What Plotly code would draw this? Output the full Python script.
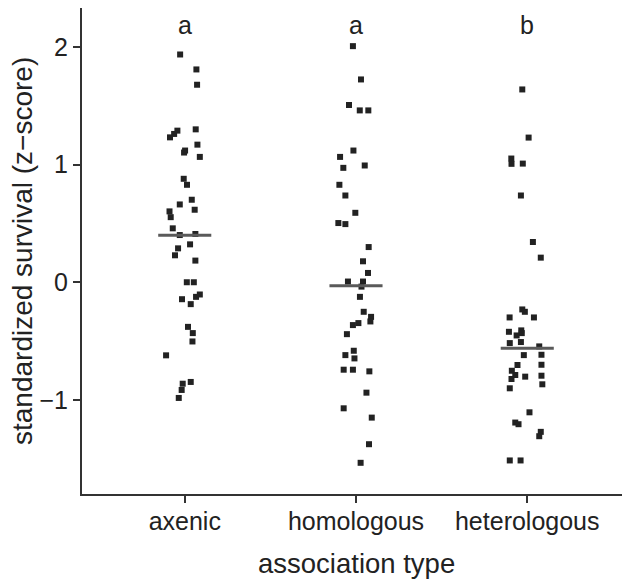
import plotly.graph_objects as go

# association types on the x axis
categories = ["axenic", "homologous", "heterologous"]
group_letters = ["a", "a", "b"]

# standardized survival (z-score)
axenic_z = [1.935, 1.808, 1.678, 1.299, 1.288, 1.260, 1.231, 1.169, 1.119, 1.102,
            1.065, 0.879, 0.828, 0.701, 0.661, 0.616, 0.602, 0.553, 0.458, 0.401,
            0.410, 0.322, 0.288, 0.229, 0.184, 0.000, 0.000, -0.104, -0.124, -0.144,
            -0.186, -0.379, -0.432, -0.503, -0.621, -0.847, -0.862, -0.915, -0.983]
axenic_jit = [-0.027, 0.068, 0.072, 0.064, -0.043, -0.062, -0.086, 0.074, 0.002, -0.004,
              0.088, -0.006, 0.013, 0.041, -0.029, 0.058, -0.089, -0.082, -0.070, -0.029,
              0.062, 0.031, -0.039, -0.057, 0.062, 0.012, 0.053, 0.088, 0.066, -0.016,
              0.035, 0.019, 0.047, 0.045, -0.109, 0.035, -0.012, -0.018, -0.035]

homologous_z = [2.006, 1.723, 1.506, 1.460, 1.460, 1.119, 1.065, 0.992, 0.972, 0.828,
                0.737, 0.590, 0.503, 0.494, 0.299, 0.178, 0.079, 0.006, 0.006, -0.037,
                -0.124, -0.251, -0.294, -0.333, -0.347, -0.364, -0.441, -0.582, -0.619, -0.647,
                -0.743, -0.743, -0.757, -0.938, -1.071, -1.150, -1.376, -1.534]
homologous_jit = [-0.018, 0.029, -0.041, 0.022, 0.072, -0.015, -0.093, 0.051, -0.074, -0.097,
                  -0.062, -0.004, -0.103, -0.062, 0.074, 0.041, 0.070, -0.047, 0.041, 0.032,
                  0.023, 0.045, 0.088, 0.084, 0.014, -0.018, -0.053, -0.013, -0.062, -0.009,
                  -0.072, -0.018, 0.078, 0.061, -0.072, 0.092, 0.076, 0.027]

heterologous_z = [1.638, 1.229, 1.051, 1.006, 1.008, 0.737, 0.342, 0.209, -0.231, -0.251,
                  -0.299, -0.299, -0.421, -0.409, -0.432, -0.452, -0.517, -0.508, -0.545, -0.616,
                  -0.619, -0.703, -0.701, -0.752, -0.788, -0.822, -0.802, -0.794, -0.867, -0.901,
                  -1.105, -1.192, -1.206, -1.271, -1.308, -1.514, -1.514]
heterologous_jit = [-0.029, 0.008, -0.093, -0.092, -0.026, -0.037, 0.033, 0.079, -0.029, -0.014,
                    -0.103, 0.039, -0.107, -0.035, -0.032, -0.062, -0.102, -0.037, 0.070, 0.083,
                    -0.020, -0.057, 0.083, -0.090, -0.070, -0.092, -0.012, 0.083, 0.088, -0.102,
                    0.013, -0.070, -0.051, 0.079, 0.070, -0.102, -0.039]

medians = [0.40, -0.03, -0.56]

FONT = "Liberation Sans, Arial, Helvetica, sans-serif"
INK = "#222222"
groups = [(axenic_z, axenic_jit), (homologous_z, homologous_jit), (heterologous_z, heterologous_jit)]

fig = go.Figure()

for i, (z, jit) in enumerate(groups):
    fig.add_trace(go.Scatter(
        x=[i + j for j in jit], y=z, mode="markers",
        marker=dict(symbol="square", size=6, color=INK, line=dict(width=0)),
        showlegend=False, hoverinfo="y",
    ))

# median bars
for i, m in enumerate(medians):
    fig.add_trace(go.Scatter(
        x=[i - 0.155, i + 0.155], y=[m, m], mode="lines",
        line=dict(color="#5a5a5a", width=3),
        showlegend=False, hoverinfo="skip",
    ))

# group letters, anchored at their top so the box stays inside the figure
for i, letter in enumerate(group_letters):
    fig.add_annotation(x=i, y=2.33, xref="x", yref="y", yanchor="top", yshift=-1,
                       text=letter, showarrow=False,
                       font=dict(family=FONT, size=25, color=INK))

# axis titles as annotations for exact placement
fig.add_annotation(x=0.5, y=0, xref="paper", yref="paper", yshift=-69, yanchor="middle",
                   text="association type", showarrow=False,
                   font=dict(family=FONT, size=27.5, color=INK))
fig.add_annotation(x=0, y=0.5, xref="paper", yref="paper", xshift=-60, xanchor="center",
                   text="standardized survival (z\u2212score)", textangle=-90, showarrow=False,
                   font=dict(family=FONT, size=28, color=INK))

# the page body adds an 8px offset, so the figure is 8px smaller each way
fig.update_layout(
    width=622, height=571,
    margin=dict(l=74, r=0, t=0, b=85, autoexpand=False),
    paper_bgcolor="white", plot_bgcolor="white",
    font=dict(family=FONT, color=INK),
)
fig.update_xaxes(
    range=[-0.6, 2.6], tickvals=[0, 1, 2], ticktext=categories, automargin=False,
    showline=True, linecolor="#333333", linewidth=2,
    ticks="outside", ticklen=7, tickwidth=1.5, tickcolor="#333333",
    showgrid=False, zeroline=False, ticklabelstandoff=-3,
    tickfont=dict(family=FONT, size=25, color=INK),
)
fig.update_yaxes(
    range=[-1.799, 2.330], tickvals=[-1, 0, 1, 2], ticktext=["\u22121", "0", "1", "2"],
    automargin=False,
    showline=True, linecolor="#333333", linewidth=2,
    ticks="outside", ticklen=7, tickwidth=1.5, tickcolor="#333333",
    showgrid=False, zeroline=False,
    tickfont=dict(family=FONT, size=25, color=INK),
)

fig.write_html("out.html")
